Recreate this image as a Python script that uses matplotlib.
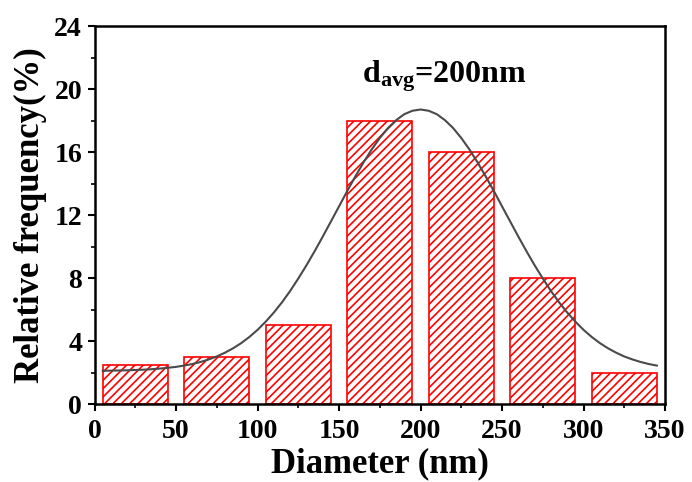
import matplotlib
matplotlib.use("Agg")
import matplotlib.pyplot as plt

# bins (centre in nm) and relative frequency in %
bin_centers = [25, 75, 125, 175, 225, 275, 325]
rel_freq = [2.5, 3, 5, 18, 16, 8, 2]
bar_width = 40

# fitted curve
curve_x = list(range(5, 350, 5))
curve_y = [2.11, 2.12, 2.13, 2.14, 2.16, 2.18, 2.21, 2.25, 2.30, 2.36,
           2.44, 2.54, 2.67, 2.83, 3.02, 3.26, 3.54, 3.87, 4.26, 4.71,
           5.23, 5.81, 6.46, 7.18, 7.97, 8.81, 9.70, 10.63, 11.59, 12.55,
           13.52, 14.45, 15.34, 16.16, 16.89, 17.52, 18.02, 18.40, 18.62, 18.70,
           18.62, 18.40, 18.02, 17.52, 16.89, 16.16, 15.34, 14.45, 13.52, 12.55,
           11.59, 10.63, 9.70, 8.81, 7.97, 7.18, 6.46, 5.81, 5.23, 4.71,
           4.26, 3.87, 3.54, 3.26, 3.02, 2.83, 2.67, 2.54, 2.44]

x_ticks = [0, 50, 100, 150, 200, 250, 300, 350]
y_ticks = [0, 4, 8, 12, 16, 20, 24]

plt.rcParams["font.family"] = "Liberation Serif"
plt.rcParams["font.weight"] = "bold"
plt.rcParams["mathtext.fontset"] = "custom"
plt.rcParams["mathtext.rm"] = "Liberation Serif:bold"
plt.rcParams["mathtext.bf"] = "Liberation Serif:bold"
plt.rcParams["mathtext.it"] = "Liberation Serif:bold"
plt.rcParams["mathtext.default"] = "bf"
plt.rcParams["hatch.linewidth"] = 1.2


def main():
    fig = plt.figure(figsize=(6.92, 4.82), dpi=100)
    ax = fig.add_axes([0.1367, 0.1618, 0.8243, 0.7842])

    ax.bar(bin_centers, rel_freq, width=bar_width, facecolor="white",
           edgecolor="#ff0000", linewidth=1.2, hatch="////", zorder=2)
    ax.plot(curve_x, curve_y, color="#4a4a4a", linewidth=1.5, zorder=3)

    ax.set_xlim(0, 350)
    ax.set_ylim(0, 24)
    ax.set_xticks(x_ticks)
    ax.set_yticks(y_ticks)
    ax.set_xticks(range(25, 350, 50), minor=True)
    ax.set_yticks(range(2, 24, 4), minor=True)

    ax.tick_params(which="major", direction="out", length=5, width=1.5,
                   labelsize=20)
    ax.tick_params(axis="x", which="major", pad=6)
    ax.tick_params(axis="y", which="major", pad=4)
    ax.tick_params(which="minor", direction="out", length=3, width=1.2)
    for s in ax.spines.values():
        s.set_linewidth(1.8)

    ax.set_xlabel("Diameter (nm)", fontsize=25, fontweight="bold", labelpad=2)
    ax.set_ylabel("Relative frequency(%)", fontsize=25, fontweight="bold",
                  labelpad=5)

    ax.text(164, 20.4, "d$_{avg}$=200nm", fontsize=23, fontweight="bold",
            ha="left", va="baseline")

    fig.savefig("out.png", dpi=100)
    plt.close(fig)


if __name__ == "__main__":
    main()
